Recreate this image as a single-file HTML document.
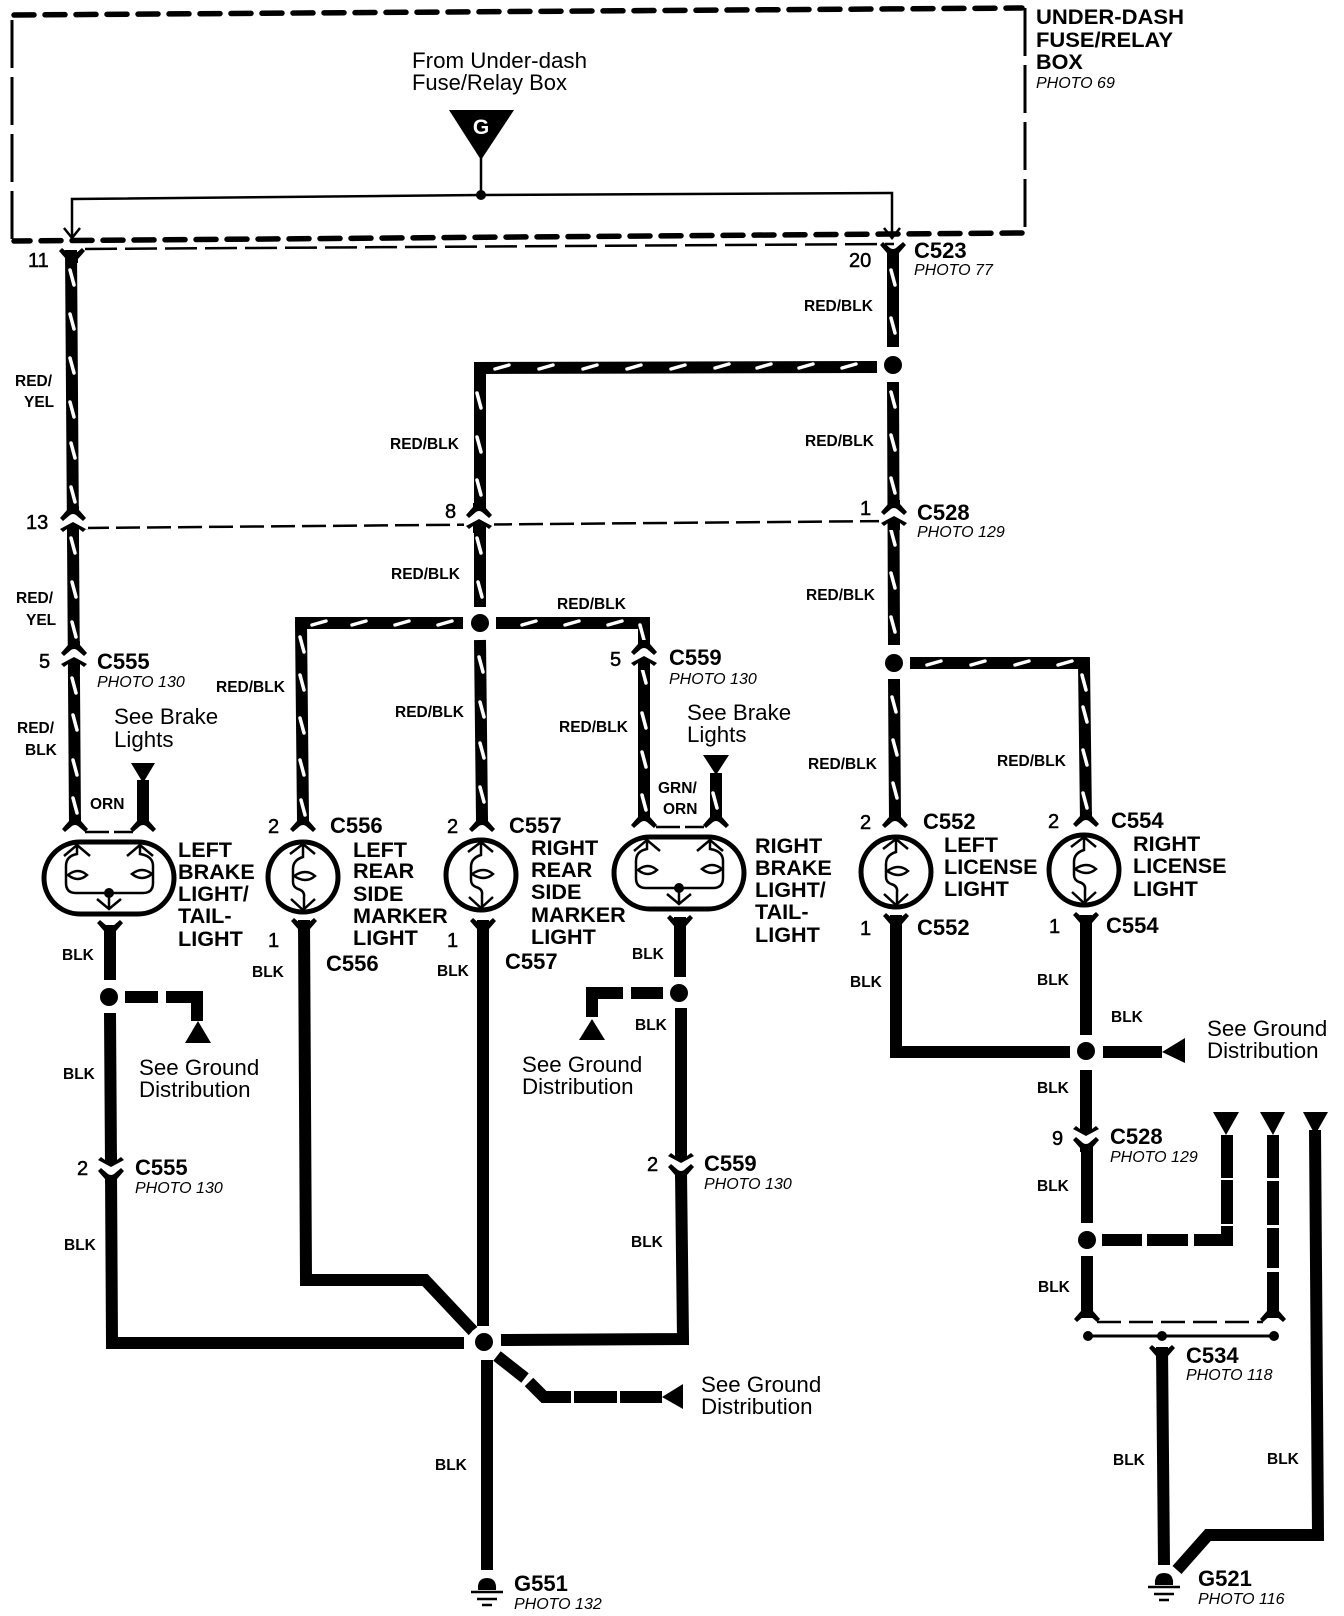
<!DOCTYPE html>
<html><head><meta charset="utf-8"><style>
html,body{margin:0;padding:0;background:#fff}
svg{display:block}
text{font-family:"Liberation Sans",sans-serif;fill:#000}
.b{font-weight:bold;font-size:21.6px}
.c{font-weight:bold;font-size:22px}
.s{font-weight:bold;font-size:15.5px}
.p{font-style:italic;font-size:16px}
.t{font-size:22.3px}
.n{font-size:20px;stroke:#000;stroke-width:.5px}
.w{fill:none;stroke:#000;stroke-width:12}
.x{fill:none;stroke:#fff;stroke-width:3.5;stroke-linecap:round}
.l{fill:none;stroke:#000;stroke-width:2.5}
</style></head><body>
<svg width="1344" height="1616" viewBox="0 0 1344 1616" xmlns="http://www.w3.org/2000/svg">
<defs>
<path id="cap" d="M-6 -10L-6 -6L-13 2L-10 5L-3 -1Q0 -3 3 -1L10 5L13 2L6 -6L6 -10Z"/>
<path id="cap2" d="M0 -4L13 3L10 6L6 3L6 10L-6 10L-6 3L-10 6L-13 3Z"/>
<g id="pu"><rect x="-15" y="-8" width="30" height="16" fill="#fff"/><use href="#cap" y="-5"/><use href="#cap2" y="5"/></g>
<g id="round">
<circle r="35" fill="#fff" stroke="#000" stroke-width="5"/>
<path class="l" d="M-13 -23L0 -33L12 -23M0 -33V-20Q-10 -17 -10 -8V5Q-10 10 -5 12Q2 14 1 20V33M-12 22L0 33L12 22"/>
<path class="l" d="M-9 -1Q3 -9 12 -1Q3 7 -9 -1Z"/>
</g>
<g id="stad">
<rect x="-65" y="-36" width="130" height="72" rx="36" ry="36" fill="#fff" stroke="#000" stroke-width="5"/>
<path class="l" d="M-45 -22L-32 -33L-19 -22M-32 -33V-24Q-43 -22 -43 -12V5Q-43 15 -33 15H34Q44 15 44 5V-12Q44 -22 31 -24V-33M18 -22L31 -33L44 -22"/>
<path class="l" d="M-41 -3Q-31 -11 -22 -3Q-31 5 -41 -3ZM43 -4Q33 -12 23 -4Q33 4 43 -4Z"/>
<circle cy="15" r="5"/>
<path class="l" d="M0 15V31M-12 21L0 31L12 21"/>
</g>
<g id="gnd"><path d="M-9 0Q-10 -12 0 -12Q10 -12 9 0Z"/><path d="M-16 2H16M-10 9H10M-5 15H5" stroke="#000" stroke-width="2.5"/></g>
</defs>

<!-- fuse box -->
<path d="M14 15L1022 8M1022 233L14 241" fill="none" stroke="#000" stroke-width="5.5" stroke-dasharray="20 11" stroke-linecap="round"/>
<path d="M12 20V241M1025 8V233" fill="none" stroke="#000" stroke-width="3" stroke-dasharray="48 9"/>
<path d="M85 249L894 244" fill="none" stroke="#000" stroke-width="2.5" stroke-dasharray="32 8"/>
<path d="M449 110H514L481 160Z"/>
<text x="481" y="134" text-anchor="middle" font-weight="bold" font-size="21" style="fill:#fff">G</text>
<path d="M481 158V195" class="l"/>
<path d="M72 238V199L481 195L892 193V238" class="l"/>
<circle cx="481" cy="195" r="5"/>
<path d="M64 228L72 238L80 228M884 228L892 238L900 228" class="l"/>

<!-- thin dashed connector lines -->
<path d="M85 528L892 521" fill="none" stroke="#000" stroke-width="2.5" stroke-dasharray="24 7"/>
<path d="M85 832H133M656 827H704" fill="none" stroke="#000" stroke-width="2.5" stroke-dasharray="24 5"/>
<path d="M1097 1322H1263" fill="none" stroke="#000" stroke-width="2.5" stroke-dasharray="24 8"/>

<!-- striped wires -->
<path class="w" d="M71 250L75 825"/>
<path class="w" d="M893 250V347M893 382L894 645M894 679L895 820"/>
<path class="w" d="M877 367L480 368L480 607M480 640L482 820"/>
<path class="w" d="M463 623H301L303 820"/>
<path class="w" d="M496 623H644V820"/>
<path class="w" d="M910 663H1084L1086 820"/>
<path class="w" d="M143 780V822M716 773V818"/>
<!-- stripes -->
<path class="x" d="M70 270l4 15M70 314l4 15M70 358l4 15M70 402l4 15M71 443l4 15M71 487l4 15M71 538l4 15M72 582l4 15M72 622l4 15M72 678l4 15M73 715l4 15M73 760l4 15M73 798l4 15
M477 393l4 15M477 437l4 15M477 480l4 15M477 538l4 15M478 582l4 15M479 657l4 15M480 702l4 15M480 743l4 15M480 787l4 15
M495 369l14 -4M539 369l14 -4M583 369l14 -4M627 369l14 -4M671 369l14 -4M715 368l14 -4M757 368l14 -4M799 368l14 -4M842 368l14 -4
M312 625l14 -4M352 625l14 -4M395 625l14 -4M438 625l14 -4M522 625l14 -4M565 625l14 -4M608 625l14 -4
M300 637l4 15M300 675l4 15M300 718l4 15M300 760l4 15M301 800l4 15
M640 625l4 15M642 668l4 15M642 713l4 15M642 752l4 15M642 795l4 15
M891 270l4 15M891 318l4 15M891 392l4 15M891 435l4 15M891 478l4 15M891 530l4 15M891 573l4 15M891 617l4 15M892 697l4 15M893 740l4 15M893 783l4 15
M927 665l14 -4M971 665l14 -4M1015 665l14 -4M1058 665l14 -4
M1082 675l4 15M1083 707l4 15M1083 750l4 15M1083 793l4 15M713 793l4 15"/>

<!-- connector junction dots, striped section -->
<circle cx="893" cy="365" r="9"/><circle cx="480" cy="623" r="9"/><circle cx="894" cy="663" r="9"/>

<!-- solid black wires -->
<path class="w" d="M110 925V980M110 1013L111 1165M111 1170L112 1343H464"/>
<path class="w" d="M304 920L306 1280H425L473 1331"/>
<path class="w" d="M483 920V1326"/>
<path class="w" d="M501 1340L683 1339L681 1172M681 1160V1008M680 917V977"/>
<path class="w" d="M896 915V1052H1070"/>
<path class="w" d="M1086 915V1035M1086 1070V1132M1087 1142V1223M1087 1256V1318"/>
<path class="w" d="M487 1360V1570"/>
<path class="w" d="M1162 1347L1164 1565"/>
<path class="w" d="M1315 1130L1318 1535H1208L1177 1570"/>
<!-- dashed ground wires -->
<path class="w" d="M125 997H158M166 997H197V1021"/>
<path class="w" d="M663 993H631M623 993H592V1017"/>
<path class="w" d="M1103 1052H1162"/>
<path class="w" d="M497 1356L525 1378M529 1382L544 1397H571M574 1397H617M620 1397H662"/>
<path class="w" d="M1102 1240H1142M1147 1240H1188M1194 1240H1227V1226M1227 1224V1180M1227 1178V1135"/>
<path class="w" d="M1273 1135V1178M1273 1181V1225M1273 1228V1268M1273 1272V1318"/>

<!-- solid dots -->
<circle cx="109" cy="997" r="9"/><circle cx="679" cy="993" r="9"/><circle cx="1086" cy="1051" r="9"/><circle cx="1087" cy="1240" r="9"/>
<circle cx="484" cy="1342" r="16" fill="#fff"/><circle cx="484" cy="1342" r="9"/>

<!-- triangles -->
<path d="M131 763H155L143 783ZM703 755H729L716 775ZM185 1043H211L198 1021ZM579 1040H605L592 1019ZM683 1384V1409L662 1397ZM1185 1038V1063L1162 1052ZM1213 1112H1239L1226 1135ZM1260 1112H1285L1273 1135ZM1303 1112H1328L1315 1135Z"/>

<!-- connectors -->
<use href="#cap" x="72" y="253" transform="translate(144 506) scale(-1 -1)"/>
<use href="#cap" x="893" y="247" transform="translate(1786 494) scale(-1 -1)"/>
<use href="#pu" x="73" y="521"/><use href="#pu" x="479" y="518"/><use href="#pu" x="894" y="515"/>
<use href="#pu" x="74" y="656"/><use href="#pu" x="644" y="655"/>
<g transform="translate(111 1168) scale(1 -1)"><use href="#pu"/></g>
<g transform="translate(681 1164) scale(1 -1)"><use href="#pu"/></g>
<g transform="translate(1086 1137) scale(1 -1)"><use href="#pu"/></g>
<use href="#cap" x="75" y="827"/><use href="#cap" x="143" y="827"/><use href="#cap" x="303" y="827"/><use href="#cap" x="482" y="827"/>
<use href="#cap" x="644" y="823"/><use href="#cap" x="716" y="823"/><use href="#cap" x="895" y="823"/><use href="#cap" x="1086" y="822"/>
<g transform="translate(110 925) scale(1 -1)"><use href="#cap"/></g>
<g transform="translate(304 923) scale(1 -1)"><use href="#cap"/></g>
<g transform="translate(483 923) scale(1 -1)"><use href="#cap"/></g>
<g transform="translate(680 920) scale(1 -1)"><use href="#cap"/></g>
<g transform="translate(896 918) scale(1 -1)"><use href="#cap"/></g>
<g transform="translate(1086 917) scale(1 -1)"><use href="#cap"/></g>
<g transform="translate(1162 1350) scale(1 -1)"><use href="#cap"/></g>
<use href="#cap" x="1087" y="1317"/><use href="#cap" x="1273" y="1317"/>
<path d="M1088 1336H1274" stroke="#000" stroke-width="3"/>
<circle cx="1088" cy="1336" r="5"/><circle cx="1162" cy="1336" r="5"/><circle cx="1274" cy="1336" r="5"/>

<!-- lamps -->
<use href="#stad" x="109" y="878"/><use href="#stad" x="679" y="873"/>
<use href="#round" x="303" y="877"/><use href="#round" x="481" y="875"/><use href="#round" x="896" y="872"/><use href="#round" x="1084" y="870"/>

<!-- grounds -->
<use href="#gnd" x="487" y="1590"/><use href="#gnd" x="1164" y="1585"/>

<!-- text -->
<text class="t" x="412" y="68" textLength="175" lengthAdjust="spacingAndGlyphs">From Under-dash</text>
<text class="t" x="412" y="90" textLength="155" lengthAdjust="spacingAndGlyphs">Fuse/Relay Box</text>
<text class="b" x="1036" y="24" textLength="148" lengthAdjust="spacingAndGlyphs">UNDER-DASH</text>
<text class="b" x="1036" y="47" textLength="137" lengthAdjust="spacingAndGlyphs">FUSE/RELAY</text>
<text class="b" x="1036" y="69">BOX</text>
<text class="p" x="1036" y="88">PHOTO 69</text>
<text class="n" x="28" y="267">11</text><text class="n" x="849" y="267">20</text>
<text class="c" x="914" y="258">C523</text><text class="p" x="914" y="275">PHOTO 77</text>

<text class="s" x="15" y="386">RED/</text><text class="s" x="24" y="407">YEL</text>
<text class="s" x="16" y="603">RED/</text><text class="s" x="26" y="625">YEL</text>
<text class="s" x="17" y="733">RED/</text><text class="s" x="25" y="755">BLK</text>
<text class="s" x="804" y="311">RED/BLK</text><text class="s" x="390" y="449">RED/BLK</text>
<text class="s" x="805" y="446">RED/BLK</text><text class="s" x="391" y="579">RED/BLK</text>
<text class="s" x="806" y="600">RED/BLK</text><text class="s" x="557" y="609">RED/BLK</text>
<text class="s" x="216" y="692">RED/BLK</text><text class="s" x="395" y="717">RED/BLK</text>
<text class="s" x="559" y="732">RED/BLK</text><text class="s" x="808" y="769">RED/BLK</text><text class="s" x="997" y="766">RED/BLK</text>

<text class="n" x="26" y="529">13</text><text class="n" x="445" y="518">8</text><text class="n" x="860" y="515">1</text>
<text class="n" x="39" y="668">5</text><text class="c" x="97" y="669">C555</text><text class="p" x="97" y="687">PHOTO 130</text>
<text class="n" x="610" y="666">5</text><text class="c" x="669" y="665">C559</text><text class="p" x="669" y="684">PHOTO 130</text>
<text class="c" x="917" y="520">C528</text><text class="p" x="917" y="537">PHOTO 129</text>
<text class="t" x="114" y="724">See Brake</text><text class="t" x="114" y="747">Lights</text>
<text class="t" x="687" y="720">See Brake</text><text class="t" x="687" y="742">Lights</text>
<text class="s" x="90" y="809">ORN</text><text class="s" x="658" y="793">GRN/</text><text class="s" x="663" y="814">ORN</text>

<text class="b" x="178" y="857">LEFT</text><text class="b" x="178" y="879">BRAKE</text><text class="b" x="178" y="901">LIGHT/</text><text class="b" x="178" y="923">TAIL-</text><text class="b" x="178" y="946">LIGHT</text>
<text class="n" x="268" y="833">2</text><text class="c" x="330" y="833">C556</text>
<text class="b" x="353" y="857">LEFT</text><text class="b" x="353" y="878">REAR</text><text class="b" x="353" y="901">SIDE</text><text class="b" x="353" y="923">MARKER</text><text class="b" x="353" y="945">LIGHT</text>
<text class="n" x="268" y="947">1</text><text class="c" x="326" y="971">C556</text>
<text class="n" x="447" y="833">2</text><text class="c" x="509" y="833">C557</text>
<text class="b" x="531" y="855">RIGHT</text><text class="b" x="531" y="877">REAR</text><text class="b" x="531" y="899">SIDE</text><text class="b" x="531" y="922">MARKER</text><text class="b" x="531" y="944">LIGHT</text>
<text class="n" x="447" y="947">1</text><text class="c" x="505" y="969">C557</text>
<text class="b" x="755" y="853">RIGHT</text><text class="b" x="755" y="875">BRAKE</text><text class="b" x="755" y="897">LIGHT/</text><text class="b" x="755" y="919">TAIL-</text><text class="b" x="755" y="942">LIGHT</text>
<text class="n" x="860" y="829">2</text><text class="c" x="923" y="829">C552</text>
<text class="b" x="944" y="852">LEFT</text><text class="b" x="944" y="874">LICENSE</text><text class="b" x="944" y="896">LIGHT</text>
<text class="n" x="860" y="935">1</text><text class="c" x="917" y="935">C552</text>
<text class="n" x="1048" y="828">2</text><text class="c" x="1111" y="828">C554</text>
<text class="b" x="1133" y="851">RIGHT</text><text class="b" x="1133" y="873">LICENSE</text><text class="b" x="1133" y="896">LIGHT</text>
<text class="n" x="1049" y="933">1</text><text class="c" x="1106" y="933">C554</text>

<text class="s" x="62" y="960">BLK</text><text class="s" x="252" y="977">BLK</text><text class="s" x="437" y="976">BLK</text>
<text class="s" x="632" y="959">BLK</text><text class="s" x="635" y="1030">BLK</text><text class="s" x="850" y="987">BLK</text><text class="s" x="1037" y="985">BLK</text>
<text class="s" x="1111" y="1022">BLK</text><text class="s" x="1037" y="1093">BLK</text><text class="s" x="1037" y="1191">BLK</text><text class="s" x="1038" y="1292">BLK</text>
<text class="s" x="63" y="1079">BLK</text><text class="s" x="64" y="1250">BLK</text><text class="s" x="631" y="1247">BLK</text>
<text class="s" x="435" y="1470">BLK</text><text class="s" x="1113" y="1465">BLK</text><text class="s" x="1267" y="1464">BLK</text>

<text class="t" x="139" y="1075">See Ground</text><text class="t" x="139" y="1097">Distribution</text>
<text class="t" x="522" y="1072">See Ground</text><text class="t" x="522" y="1094">Distribution</text>
<text class="t" x="1207" y="1036">See Ground</text><text class="t" x="1207" y="1058">Distribution</text>
<text class="t" x="701" y="1392">See Ground</text><text class="t" x="701" y="1414">Distribution</text>

<text class="n" x="77" y="1175">2</text><text class="c" x="135" y="1175">C555</text><text class="p" x="135" y="1193">PHOTO 130</text>
<text class="n" x="647" y="1171">2</text><text class="c" x="704" y="1171">C559</text><text class="p" x="704" y="1189">PHOTO 130</text>
<text class="n" x="1052" y="1145">9</text><text class="c" x="1110" y="1144">C528</text><text class="p" x="1110" y="1162">PHOTO 129</text>
<text class="c" x="1186" y="1363">C534</text><text class="p" x="1186" y="1380">PHOTO 118</text>
<text class="c" x="514" y="1591">G551</text><text class="p" x="514" y="1609">PHOTO 132</text>
<text class="c" x="1198" y="1586">G521</text><text class="p" x="1198" y="1604">PHOTO 116</text>
</svg>
</body></html>
